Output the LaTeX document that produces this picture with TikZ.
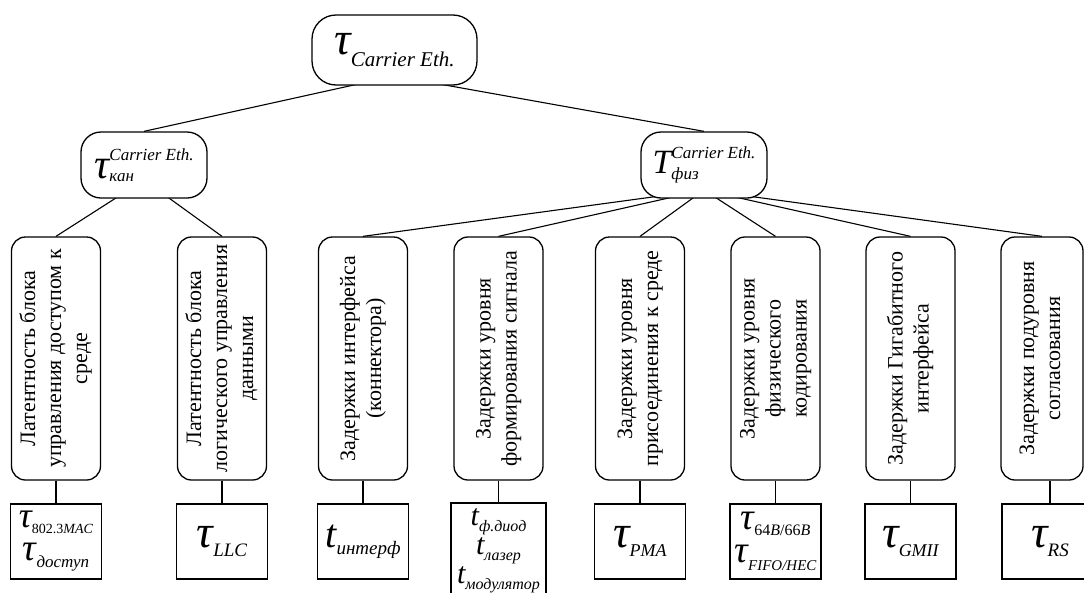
\documentclass[tikz,border=0pt]{standalone}
\usepackage{fontspec}
\setmainfont{Liberation Serif}
\usetikzlibrary{backgrounds}

% italic base symbol with a lowered index: size, base, index size, index, drop
\newcommand\sbsym[5]{{\fontsize{#1}{#1}\selectfont\itshape #2}\raisebox{-#5pt}{\fontsize{#3}{#3}\selectfont #4}}
% italic base symbol with upper and lower index:
% size, base, index size, upper, lower, raise, drop
\newcommand\spsym[7]{{\fontsize{#1}{#1}\selectfont\itshape #2}\rlap{\raisebox{-#7pt}{\fontsize{#3}{#3}\selectfont\itshape #5}}\raisebox{#6pt}{\fontsize{#3}{#3}\selectfont\itshape #4}}
% caption written bottom to top inside a tall box
\newcommand\vlabel[1]{\rotatebox{90}{\fontsize{22}{26}\selectfont\begin{tabular}{@{}c@{}}#1\end{tabular}}}

\tikzset{
  root/.style={draw, line width=1.3pt, fill=white, rounded corners=24pt,
    minimum width=165pt, minimum height=70pt, inner sep=0pt},
  mid/.style={draw, line width=1.3pt, fill=white, rounded corners=20pt,
    minimum width=126pt, minimum height=66pt, inner sep=0pt},
  layer/.style={draw, line width=1.3pt, fill=white, rounded corners=14pt,
    minimum width=89pt, minimum height=243pt, inner sep=0pt},
  leaf/.style={draw, line width=1.3pt, fill=white, minimum width=91pt,
    minimum height=75pt, inner sep=0pt, align=center},
  link/.style={line width=1.1pt}
}

\begin{document}
\begin{tikzpicture}[x=1pt, y=-1pt]
\useasboundingbox (0,0) rectangle (1084,592);

% root and the two parts of the delay
\node[root] (top) at (394.5,50) {\sbsym{46}{τ}{21}{\itshape Carrier Eth.}{12}};
\node[mid] (kan) at (144,165) {\spsym{42}{τ}{17}{Carrier Eth.}{кан}{18}{3}};
\node[mid] (fiz) at (704,165) {\spsym{34}{T}{17}{Carrier Eth.}{физ}{15}{6}};

% layer boxes
\node[layer] (b1) at (56,358.5) {\vlabel{Латентность блока\\управления доступом к\\среде}};
\node[layer] (b2) at (222,358.5) {\vlabel{Латентность блока\\логического управления\\данными}};
\node[layer] (b3) at (363,358.5) {\vlabel{Задержки интерфейса\\(коннектора)}};
\node[layer] (b4) at (498.5,358.5) {\vlabel{Задержки уровня\\формирования сигнала}};
\node[layer] (b5) at (640,358.5) {\vlabel{Задержки уровня\\присоединения к среде}};
\node[layer] (b6) at (775.5,358.5) {\vlabel{Задержки уровня\\физического\\кодирования}};
\node[layer] (b7) at (910.5,358.5) {\vlabel{Задержки Гигабитного\\интерфейса}};
\node[layer, minimum width=82pt] (b8) at (1042,358.5) {\vlabel{Задержки подуровня\\согласования}};

% delay terms
\node[leaf, font={\fontsize{30}{33}\selectfont}] (l1) at (56,541.5)
  {\sbsym{36}{τ}{14}{802.3\textit{MAC}}{6}\\\sbsym{38}{τ}{17}{\itshape доступ}{7}};
\node[leaf] (l2) at (222,541.5) {\sbsym{46}{τ}{19}{\itshape LLC}{9}};
\node[leaf] (l3) at (363,541.5) {\sbsym{40}{t}{19}{\itshape интерф}{7}};
\node[leaf, minimum width=95pt, minimum height=96pt, font={\fontsize{28}{29}\selectfont}] (l4) at (498.5,551)
  {\sbsym{30}{t}{16}{\itshape ф.диод}{6}\\\sbsym{30}{t}{16}{\itshape лазер}{6}\\\sbsym{30}{t}{16}{\itshape модулятор}{6}};
\node[leaf] (l5) at (640,541.5) {\sbsym{46}{τ}{18}{\itshape PMA}{9}};
\node[leaf, font={\fontsize{30}{33}\selectfont}] (l6) at (775.5,541.5)
  {\sbsym{38}{τ}{16}{64\textit{B}/66\textit{B}}{6}\\\sbsym{38}{τ}{15}{\itshape FIFO/HEC}{8}};
\node[leaf] (l7) at (910.5,541.5) {\sbsym{46}{τ}{18}{\itshape GMII}{9}};
\node[leaf, minimum width=96pt] (l8) at (1050,541.5) {\sbsym{46}{τ}{19}{\itshape RS}{9}};

% connectors, kept behind the boxes
\begin{scope}[on background layer]
  \draw[link] ([yshift=-26pt]top.center) -- (kan.north);
  \draw[link] ([yshift=-26pt]top.center) -- (fiz.north);
  \draw[link] ([yshift=-15pt]kan.center) -- (b1.north);
  \draw[link] ([yshift=-15pt]kan.center) -- (b2.north);
  \foreach \b in {b3,b4,b5,b6,b7,b8}
    \draw[link] ([yshift=-25pt]fiz.center) -- (\b.north);
  \foreach \i in {1,2,3,4,5,6,7}
    \draw[link] (b\i.south) -- (l\i.north);
  \draw[link] (l8.north) -- (l8.north |- b8.south);
\end{scope}
\end{tikzpicture}
\end{document}
